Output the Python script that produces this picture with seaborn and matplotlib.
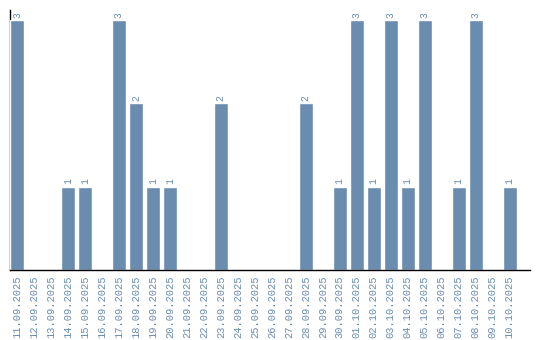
import matplotlib
matplotlib.use("Agg")
import matplotlib.pyplot as plt
import seaborn as sns
import pandas as pd

dates = ["11.09.2025", "12.09.2025", "13.09.2025", "14.09.2025", "15.09.2025",
         "16.09.2025", "17.09.2025", "18.09.2025", "19.09.2025", "20.09.2025",
         "21.09.2025", "22.09.2025", "23.09.2025", "24.09.2025", "25.09.2025",
         "26.09.2025", "27.09.2025", "28.09.2025", "29.09.2025", "30.09.2025",
         "01.10.2025", "02.10.2025", "03.10.2025", "04.10.2025", "05.10.2025",
         "06.10.2025", "07.10.2025", "08.10.2025", "09.10.2025", "10.10.2025"]
counts = [3, 0, 0, 1, 1, 0, 3, 2, 1, 1,
          0, 0, 2, 0, 0, 0, 0, 2, 0, 1,
          3, 1, 3, 1, 3, 0, 1, 3, 0, 1]

BAR = "#6a8caf"

sns.set_theme(style="white")
plt.rcParams["font.family"] = ["Liberation Mono", "DejaVu Sans Mono"]

df = pd.DataFrame({"date": dates, "count": counts})

fig = plt.figure(figsize=(5.4, 3.4), dpi=100)
ax = fig.add_axes([10 / 540, 70 / 340, 520 / 540, 260 / 340])

sns.barplot(data=df, x="date", y="count", color=BAR, saturation=1,
            width=0.82, ax=ax, order=dates)
for patch in ax.patches:
    patch.set_zorder(3)

for patch, v in zip(ax.patches, counts):
    if v > 0:
        ax.text(patch.get_x() + patch.get_width() / 2, v + 0.03, str(v),
                rotation=90, ha="center", va="bottom", fontsize=7, color=BAR)

ax.set_xlim(-0.41, 30.2)
ax.set_ylim(0, 3.12)
ax.set_xlabel("")
ax.set_ylabel("")
ax.set_yticks([])
ax.tick_params(axis="x", length=0, pad=4, labelsize=7.5, labelcolor=BAR)
for lbl in ax.get_xticklabels():
    lbl.set_rotation(90)
for s in ["top", "right"]:
    ax.spines[s].set_visible(False)
for s in ["left", "bottom"]:
    ax.spines[s].set_color("black")
    ax.spines[s].set_linewidth(1)
ax.spines["left"].set_zorder(2)
ax.spines["bottom"].set_zorder(4)

fig.savefig("out.png", dpi=100)
